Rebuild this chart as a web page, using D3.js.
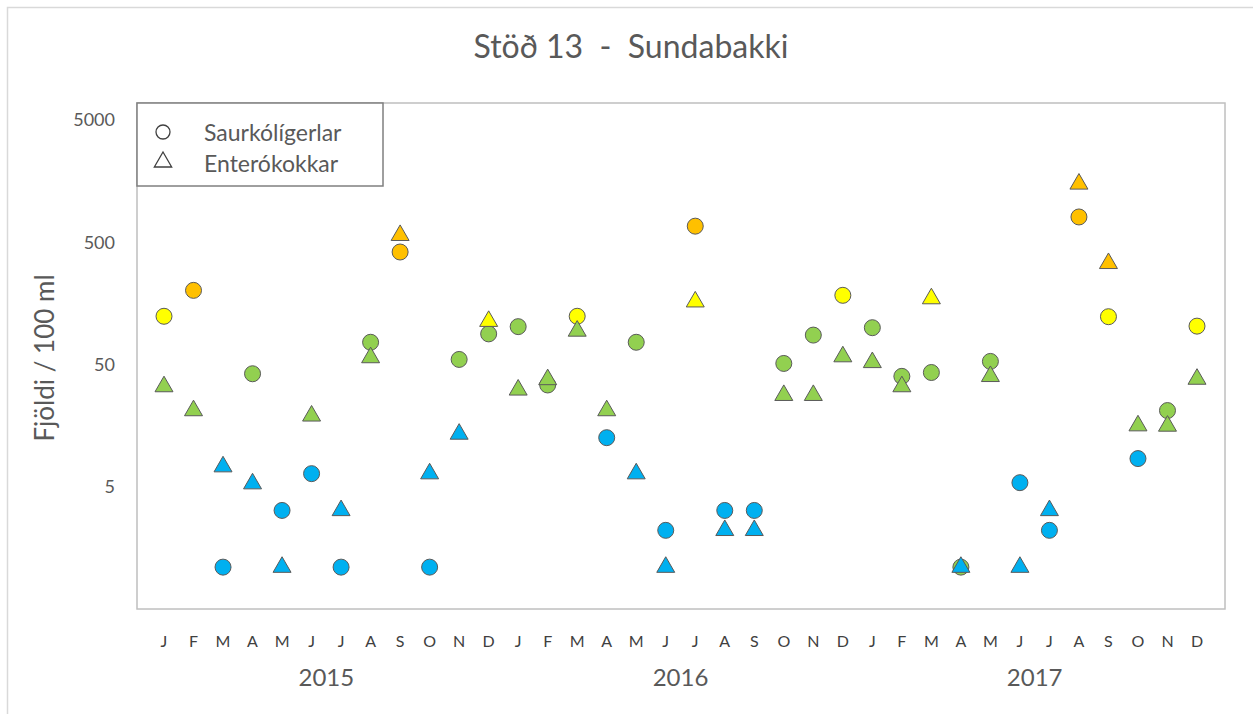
<!DOCTYPE html>
<html>
<head>
<meta charset="utf-8">
<script src="https://cdn.jsdelivr.net/npm/d3@7"></script>
<style>
  html, body { margin: 0; padding: 0; background: #fff; }
  svg { display: block; font-family: Lato, "Open Sans", sans-serif; }
</style>
</head>
<body>
<svg id="chart"></svg>
<script>
const MONTHS = ['J', 'F', 'M', 'A', 'M', 'J', 'J', 'A', 'S', 'O', 'N', 'D']
const YEARS = ['2015', '2016', '2017']
const Y_TICKS = [5, 50, 500, 5000]

// Saurkólígerlar (circles), 36 monthly samples
const saurkoli = [124, 202, 1.1, 42, 3.2, 6.4, 1.1, 76, 416, 1.1, 55, 89,
                  102, 34, 124, 12.6, 76, 2.2, 677, 3.2, 3.2, 51, 87, 184,
                  100, 40, 43, 1.1, 53, 5.4, 2.2, 805, 123, 8.5, 21, 103]
// quality class per sample: b, g, y, o
const saurkoliClass = ['y', 'o', 'b', 'g', 'b', 'b', 'b', 'g', 'o', 'b', 'g', 'g',
                       'g', 'g', 'y', 'b', 'g', 'b', 'o', 'b', 'b', 'g', 'g', 'y',
                       'g', 'g', 'g', 'g', 'g', 'b', 'b', 'o', 'y', 'b', 'g', 'y']

// Enterókokkar (triangles)
const entero = [33, 21, 7.3, 5.3, 1.1, 19, 3.2, 57, 570, 6.4, 13.5, 113,
                31, 37.7, 94, 21, 6.4, 1.1, 163, 2.2, 2.2, 28, 28, 58,
                52, 33, 173, 1.1, 40, 1.1, 3.2, 1500, 336, 15.8, 15.7, 38]
const enteroClass = ['g', 'g', 'b', 'b', 'b', 'g', 'b', 'g', 'o', 'b', 'b', 'y',
                     'g', 'g', 'g', 'g', 'b', 'b', 'y', 'b', 'b', 'g', 'g', 'g',
                     'g', 'g', 'y', 'b', 'g', 'b', 'b', 'o', 'o', 'g', 'g', 'g']

const width = 1253
const height = 714
const plot = { left: 137, right: 1225, top: 103, bottom: 609 }
const textColor = '#595959'

const keys = d3.range(36)

const x = d3.scalePoint()
    .domain(keys)
    .range([164, 1197])

const y = d3.scaleLog()
    .domain([0.5, 5000])
    .range([609, 120])

const color = d3.scaleOrdinal()
    .domain(['b', 'g', 'y', 'o'])
    .range(['#00b0f0', '#92d050', '#ffff00', '#ffc000'])

const svg = d3.select('#chart')
    .attr('width', width)
    .attr('height', height)

// outer chart border
svg.append('path')
    .attr('d', `M7.5,${height + 5}V7.5H${width + 5}`)
    .attr('fill', 'none')
    .attr('stroke', '#d9d9d9')
    .attr('stroke-width', 1.5)

// plot frame
svg.append('rect')
    .attr('x', plot.left)
    .attr('y', plot.top)
    .attr('width', plot.right - plot.left)
    .attr('height', plot.bottom - plot.top)
    .attr('fill', 'none')
    .attr('stroke', '#bfbfbf')
    .attr('stroke-width', 1.5)

svg.append('text')
    .attr('x', 631)
    .attr('y', 58)
    .attr('text-anchor', 'middle')
    .style('white-space', 'pre')
    .style('font-size', '32px')
    .attr('fill', textColor)
    .text('Stöð 13  -  Sundabakki')

// y ticks
svg.selectAll('.ytick')
    .data(Y_TICKS)
    .enter().append('text')
    .attr('class', 'ytick')
    .attr('x', 115)
    .attr('y', d => y(d))
    .attr('dy', '.35em')
    .attr('text-anchor', 'end')
    .style('font-size', '18px')
    .attr('fill', textColor)
    .text(d => d)

svg.append('text')
    .attr('transform', 'translate(54,358) rotate(-90)')
    .attr('text-anchor', 'middle')
    .style('font-size', '26px')
    .attr('fill', textColor)
    .text('Fjöldi / 100 ml')

// month labels
svg.selectAll('.mtick')
    .data(keys)
    .enter().append('text')
    .attr('class', 'mtick')
    .attr('x', d => x(d))
    .attr('y', 647)
    .attr('text-anchor', 'middle')
    .style('font-size', '16px')
    .attr('fill', '#404040')
    .text(d => MONTHS[d % 12])

svg.selectAll('.year')
    .data(YEARS)
    .enter().append('text')
    .attr('class', 'year')
    .attr('x', (d, i) => (x(i * 12) + x(i * 12 + 11)) / 2)
    .attr('y', 686)
    .attr('text-anchor', 'middle')
    .style('font-size', '24px')
    .attr('fill', textColor)
    .text(d => d)

// circles first, triangles on top
svg.selectAll('.saur')
    .data(keys)
    .enter().append('circle')
    .attr('class', 'saur')
    .attr('cx', d => x(d))
    .attr('cy', d => y(saurkoli[d]))
    .attr('r', 8)
    .attr('fill', d => color(saurkoliClass[d]))
    .attr('stroke', '#5a5a5a')
    .attr('stroke-width', 1)

const tri = d3.symbol().type(d3.symbolTriangle).size(140)

svg.selectAll('.ent')
    .data(keys)
    .enter().append('path')
    .attr('class', 'ent')
    .attr('d', tri)
    .attr('transform', d => `translate(${x(d)},${y(entero[d])})`)
    .attr('fill', d => color(enteroClass[d]))
    .attr('stroke', '#5a5a5a')
    .attr('stroke-width', 1)

// legend
svg.append('rect')
    .attr('x', 137)
    .attr('y', 103)
    .attr('width', 246)
    .attr('height', 83)
    .attr('fill', '#fff')
    .attr('stroke', '#7f7f7f')
    .attr('stroke-width', 1.5)

svg.append('circle')
    .attr('cx', 163)
    .attr('cy', 132)
    .attr('r', 7)
    .attr('fill', 'none')
    .attr('stroke', '#404040')
    .attr('stroke-width', 1.3)

svg.append('path')
    .attr('d', d3.symbol().type(d3.symbolTriangle).size(130))
    .attr('transform', 'translate(163,162)')
    .attr('fill', 'none')
    .attr('stroke', '#404040')
    .attr('stroke-width', 1.3)

svg.selectAll('.leg')
    .data(['Saurkólígerlar', 'Enterókokkar'])
    .enter().append('text')
    .attr('class', 'leg')
    .attr('x', 204)
    .attr('y', (d, i) => 133 + i * 31)
    .attr('dy', '.35em')
    .style('font-size', '23px')
    .attr('fill', textColor)
    .text(d => d)
</script>
</body>
</html>
